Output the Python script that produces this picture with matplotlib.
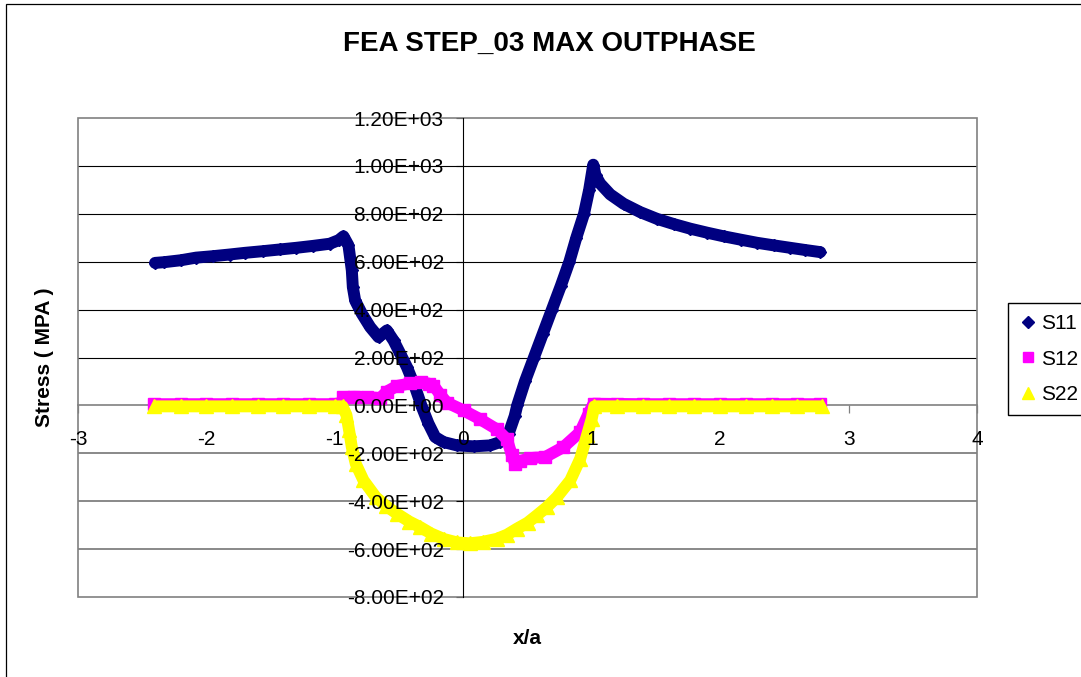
import matplotlib
matplotlib.use('Agg')
import matplotlib.pyplot as plt
from matplotlib.lines import Line2D
from matplotlib.patches import Rectangle
from matplotlib.ticker import FuncFormatter

plt.rcParams['font.family'] = ['Liberation Sans', 'DejaVu Sans']
plt.rcParams['axes.unicode_minus'] = False

# ---------------- data ----------------
title = "FEA STEP_03 MAX OUTPHASE"
x_label = "x/a"
y_label = "Stress ( MPA )"
series_names = ["S11", "S12", "S22"]

s11_x = [-2.40, -2.33, -2.20, -2.08, -1.95, -1.82, -1.70, -1.56, -1.43, -1.30,
         -1.17, -1.04, -0.97, -0.933, -0.894, -0.868, -0.860, -0.842, -0.790, -0.725,
         -0.660, -0.595, -0.543, -0.491, -0.439, -0.375, -0.322, -0.271, -0.219, -0.154,
         -0.050, 0.080, 0.210, 0.287, 0.353, 0.400, 0.420, 0.480, 0.550, 0.620,
         0.690, 0.760, 0.826, 0.880, 0.940, 0.980, 1.012, 1.030, 1.066, 1.144,
         1.248, 1.378, 1.508, 1.640, 1.767, 1.900, 2.027, 2.160, 2.287, 2.420,
         2.546, 2.660, 2.780]
s11_y = [595, 598, 606, 617, 623, 630, 637, 644, 651, 658,
         666, 675, 690, 706, 668, 564, 494, 438, 383, 327,
         285, 313, 271, 216, 160, 76, -7, -76, -132, -153,
         -167, -171, -167, -153, -118, -45, 0, 100, 200, 300,
         400, 500, 600, 700, 800, 900, 1005, 960, 926, 881,
         842, 807, 779, 757, 738, 721, 706, 692, 679, 668,
         658, 649, 640]

s12_x = [-2.41, -2.20, -2.00, -1.80, -1.60, -1.40, -1.20, -1.00, -0.955, -0.933,
         -0.850, -0.750, -0.647, -0.595, -0.517, -0.414, -0.330, -0.270, -0.232, -0.180,
         -0.128, 0.002, 0.132, 0.262, 0.340, 0.379, 0.404, 0.443, 0.521, 0.640,
         0.780, 0.910, 0.975, 1.014, 1.200, 1.400, 1.600, 1.800, 2.000, 2.200,
         2.400, 2.600, 2.780]
s12_y = [5, 5, 5, 5, 5, 5, 5, 5, 5, 35,
         36, 35, 30, 58, 81, 92, 96, 91, 83, 45,
         12, -21, -58, -100, -142, -209, -244, -232, -220, -215,
         -174, -111, -35, 7, 6, 5, 5, 5, 5, 5,
         5, 5, 5]

s22_x = [-2.41, -2.20, -2.00, -1.80, -1.60, -1.40, -1.20, -1.00, -0.940, -0.910,
         -0.889, -0.868, -0.837, -0.777, -0.681, -0.600, -0.517, -0.420, -0.336, -0.250,
         -0.150, -0.050, 0.050, 0.150, 0.262, 0.340, 0.417, 0.500, 0.573, 0.650,
         0.729, 0.833, 0.910, 0.963, 1.000, 1.020, 1.200, 1.400, 1.600, 1.800,
         2.000, 2.200, 2.400, 2.600, 2.790]
s22_y = [-4, -4, -4, -4, -4, -4, -4, -4, -4, -40,
         -104, -174, -244, -313, -383, -420, -452, -485, -508, -535,
         -558, -572, -576, -570, -557, -540, -515, -490, -459, -425,
         -383, -313, -223, -125, -56, -4, -4, -4, -4, -4,
         -4, -4, -4, -4, -4]

x_ticks = [-3, -2, -1, 0, 1, 2, 3, 4]
y_ticks = [-800, -600, -400, -200, 0, 200, 400, 600, 800, 1000, 1200]

# ---------------- figure ----------------
W, H = 1081, 677
fig = plt.figure(figsize=(W / 100, H / 100), dpi=100)
fig.patch.set_facecolor('white')

# outer chart frame (left and top edges visible)
fig.patches.append(Rectangle((5.5 / W, -0.05), 1.2, 1 - 3.5 / H + 0.05,
                             transform=fig.transFigure, fill=False,
                             edgecolor='black', lw=0.9))

pos = [78 / W, 1 - 597 / H, (977 - 78) / W, (597 - 118) / H]
ax = fig.add_axes(pos)
ax.set_xlim(x_ticks[0], x_ticks[-1])
ax.set_ylim(y_ticks[0], y_ticks[-1])
ax.set_axisbelow(True)
ax.set_xticks(x_ticks)
ax.set_yticks(y_ticks)

for name in ['top', 'right']:
    ax.spines[name].set_visible(False)
ax.spines['left'].set_position(('data', 0))
ax.spines['bottom'].set_position(('data', 0))
ax.spines['left'].set_color('black')
ax.spines['left'].set_linewidth(0.8)
ax.spines['bottom'].set_color('#808080')
ax.spines['bottom'].set_linewidth(1.2)
ax.spines['left'].set_zorder(1)
ax.spines['bottom'].set_zorder(1)

# plot-area border
ax.add_patch(Rectangle((0, 0), 1, 1, transform=ax.transAxes, fill=False,
                       edgecolor='#808080', lw=1.2, zorder=1, clip_on=False))

ax.yaxis.grid(True, color='black', lw=0.8)
for val, gl in zip(ax.get_yticks(), ax.get_ygridlines()):
    if val == 0 or val == y_ticks[0] or val == y_ticks[-1]:
        gl.set_visible(False)
    elif val < 0:
        gl.set_color('#6a6a6a')
        gl.set_linewidth(1.1)

ax.tick_params(axis='y', direction='out', length=5, width=0.8, color='black',
               labelleft=False)
ax.tick_params(axis='x', direction='out', length=6, width=0.9, color='#808080',
               labelbottom=False)

NAVY, MAGENTA, YELLOW = '#000080', '#FF00FF', '#FFFF00'
LW = 8.6
ax.plot(s11_x, s11_y, color=NAVY, lw=LW, marker='D', ms=6.6, mec=NAVY, mfc=NAVY,
        solid_joinstyle='round', solid_capstyle='round', zorder=3, clip_on=False)
ax.plot(s12_x, s12_y, color=MAGENTA, lw=LW, marker='s', ms=8.2, mec=MAGENTA, mfc=MAGENTA,
        solid_joinstyle='round', solid_capstyle='butt', zorder=4, clip_on=False)
ax.plot(s22_x, s22_y, color=YELLOW, lw=LW, marker='^', ms=9.5, mec=YELLOW, mfc=YELLOW,
        solid_joinstyle='round', solid_capstyle='butt', zorder=5, clip_on=False)

# overlay axes carrying the tick labels (drawn above the data)
ax2 = fig.add_axes(pos)
ax2.set_xlim(x_ticks[0], x_ticks[-1])
ax2.set_ylim(y_ticks[0], y_ticks[-1])
ax2.patch.set_visible(False)
ax2.set_xticks(x_ticks)
ax2.set_yticks(y_ticks)
ax2.spines['left'].set_position(('data', 0))
ax2.spines['bottom'].set_position(('data', 0))
for s in ax2.spines.values():
    s.set_visible(False)
ax2.xaxis.set_major_formatter(FuncFormatter(lambda v, p: f"{int(round(v))}"))
ax2.yaxis.set_major_formatter(FuncFormatter(lambda v, p: f"{v:.2E}"))
ax2.tick_params(axis='y', direction='out', length=5, color=(0, 0, 0, 0),
                labelsize=15, pad=9, labelcolor='black')
ax2.tick_params(axis='x', direction='out', length=6, color=(0, 0, 0, 0),
                labelsize=15, pad=12, labelcolor='black')

# titles
fig.text(549 / W, 1 - 44 / H, title, ha='center', va='center',
         fontsize=20, fontweight='bold')
fig.text(527 / W, 1 - 638 / H, x_label, ha='center', va='center',
         fontsize=15, fontweight='bold')
fig.text(44 / W, 1 - 357 / H, y_label, ha='center', va='center',
         rotation=90, fontsize=15, fontweight='bold')

# legend
handles = [Line2D([], [], ls='none', marker='D', ms=6.5, color=NAVY),
           Line2D([], [], ls='none', marker='s', ms=7.5, color=MAGENTA),
           Line2D([], [], ls='none', marker='^', ms=9, color=YELLOW)]
leg = fig.legend(handles, series_names, loc='upper left',
                 bbox_to_anchor=(1008 / W, 1 - 303 / H), bbox_transform=fig.transFigure,
                 frameon=True, fancybox=False, framealpha=1, edgecolor='black',
                 fontsize=15, borderpad=0.55, labelspacing=0.78,
                 handlelength=0.8, handletextpad=0.25, borderaxespad=0)
leg.get_frame().set_linewidth(1.0)

fig.savefig('out.png', dpi=100)
